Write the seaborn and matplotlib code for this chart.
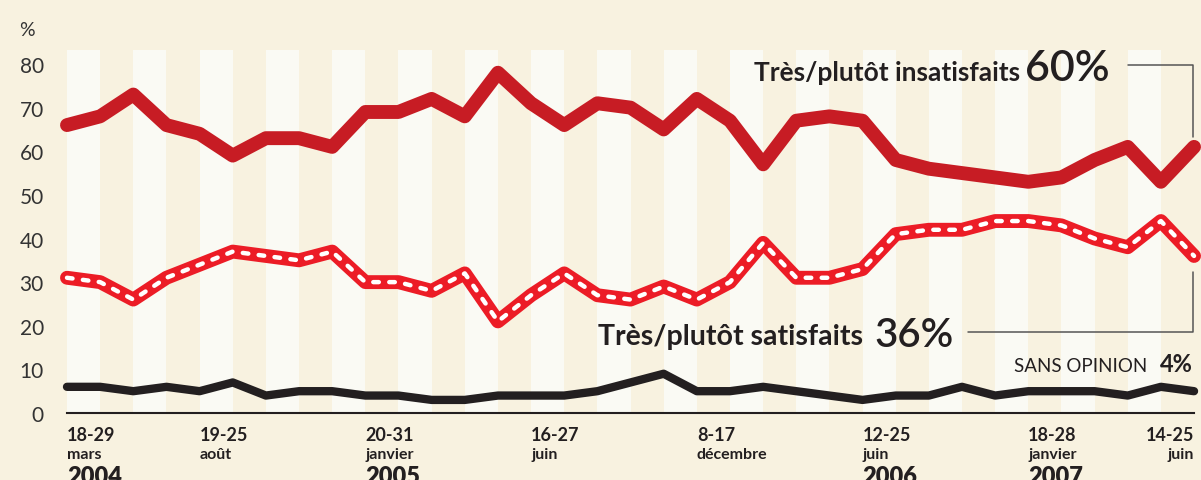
import numpy as np
import pandas as pd
import matplotlib
matplotlib.use("Agg")
import matplotlib.pyplot as plt
import seaborn as sns

# Survey values (percent), one per poll
insatisfaits = [66, 68, 73, 66, 64, 59, 63, 63, 61, 69, 69, 72, 68, 78, 71, 66, 71, 70,
                65, 72, 67, 57, 67, 68, 67, 58, 56, 55, 54, 53, 54, 58, 61, 53, 61]
satisfaits = [31, 30, 26, 31, 34, 37, 36, 35, 37, 30, 30, 28, 32, 21, 27, 32, 27, 26,
              29, 26, 30, 39, 31, 31, 33, 41, 42, 42, 44, 44, 43, 40, 38, 44, 36]
sans_opinion = [6, 6, 5, 6, 5, 7, 4, 5, 5, 4, 4, 3, 3, 4, 4, 4, 5, 7,
                9, 5, 5, 6, 5, 4, 3, 4, 4, 6, 4, 5, 5, 5, 4, 6, 5]

tick_idx = [0, 4, 9, 14, 19, 24, 29, 34]
tick_days = ["18-29", "19-25", "20-31", "16-27", "8-17", "12-25", "18-28", "14-25"]
tick_months = ["mars", "août", "janvier", "juin", "décembre", "juin", "janvier", "juin"]
tick_years = ["2004", "", "2005", "", "", "2006", "2007", ""]

yticks = [0, 10, 20, 30, 40, 50, 60, 70, 80]

BG = "#F8F2E0"
STRIPE = "#FAFAF4"
DARK_RED = "#C71C24"
RED = "#EC1C26"
INK = "#231F20"

sns.set_style("white")
plt.rcParams["font.family"] = ["Lato", "DejaVu Sans"]

df = pd.DataFrame({"idx": np.arange(len(insatisfaits)),
                   "insat": insatisfaits, "sat": satisfaits, "so": sans_opinion})

fig = plt.figure(figsize=(12.01, 4.81), dpi=100, facecolor=BG)
ax = fig.add_axes([55 / 1201, 67 / 481, 1146 / 1201, 414 / 481])
ax.set_facecolor(BG)
ax.set_xlim(-0.362, 34.21)
ax.set_ylim(0, 94.9)

# alternating light stripes
for k in range(0, len(insatisfaits) - 1, 2):
    ax.bar(k + 0.5, 83.2, width=1, color=STRIPE, zorder=0, linewidth=0)

# lines
sns.lineplot(data=df, x="idx", y="insat", ax=ax, color=DARK_RED, lw=10,
             solid_capstyle="round", solid_joinstyle="round", zorder=3)
sns.lineplot(data=df, x="idx", y="sat", ax=ax, color=RED, lw=10,
             solid_capstyle="round", solid_joinstyle="round", zorder=3)
sns.lineplot(data=df, x="idx", y="sat", ax=ax, color="white", lw=3.2,
             linestyle=(0, (1.25, 2.35)), dash_capstyle="round", zorder=4)
sns.lineplot(data=df, x="idx", y="so", ax=ax, color=INK, lw=6,
             solid_capstyle="round", solid_joinstyle="round", zorder=3)

# axes styling
for s in ["top", "right", "left"]:
    ax.spines[s].set_visible(False)
ax.spines["bottom"].set_bounds(0, 34)
ax.spines["bottom"].set_color(INK)
ax.spines["bottom"].set_linewidth(1.5)
ax.set_xlabel("")
ax.set_ylabel("")
ax.set_xticks(tick_idx)
ax.set_xticklabels([""] * len(tick_idx))
ax.tick_params(axis="x", direction="in", length=6, width=1.5, color=INK)
ax.set_yticks(yticks)
ax.set_yticklabels([str(v) for v in yticks])
ax.tick_params(axis="y", length=0, pad=8, labelsize=15, labelcolor="#333333")
ax.grid(False)

fig.text(27 / 1201, 1 - 30 / 481, "%", fontsize=14, color="#333333",
         ha="center", va="center")

# date labels under the axis
for i, d, m, y in zip(tick_idx, tick_days, tick_months, tick_years):
    ha = "right" if i == tick_idx[-1] else "left"
    ax.text(i, -2.98, d, fontsize=13, fontweight="bold", color=INK, ha=ha, va="top", clip_on=False)
    ax.text(i, -10.3, m, fontsize=11.5, fontweight="bold", color=INK, ha=ha, va="baseline", clip_on=False)
    if y:
        ax.text(i, -11.9, y, fontsize=17, fontweight="heavy", color=INK, ha=ha, va="top", clip_on=False)

# annotations
ax.text(28.75, 76.3, "Très/plutôt insatisfaits", fontsize=19, fontweight="bold",
        color=INK, ha="right", va="baseline")
ax.text(28.9, 76.3, "60%", fontsize=31, fontweight="semibold", color=INK, ha="left", va="baseline")
ax.plot([32.0, 33.98, 33.98], [79.8, 79.8, 63.3], color="#555555", lw=1.1, zorder=2)

ax.text(24.01, 15.8, "Très/plutôt satisfaits", fontsize=20.5, fontweight="bold",
        color=INK, ha="right", va="baseline")
ax.text(24.37, 15.4, "36%", fontsize=29, fontweight="semibold", color=INK, ha="left", va="baseline")
ax.plot([27.18, 33.98, 33.98], [18.6, 18.6, 32.3], color="#555555", lw=1.1, zorder=2)

ax.text(32.6, 9.6, "SANS OPINION", fontsize=13.5, color=INK, ha="right", va="baseline")
ax.text(32.97, 9.6, "4%", fontsize=17, fontweight="bold", color=INK, ha="left", va="baseline")

fig.savefig("out.png", dpi=100, facecolor=BG)
